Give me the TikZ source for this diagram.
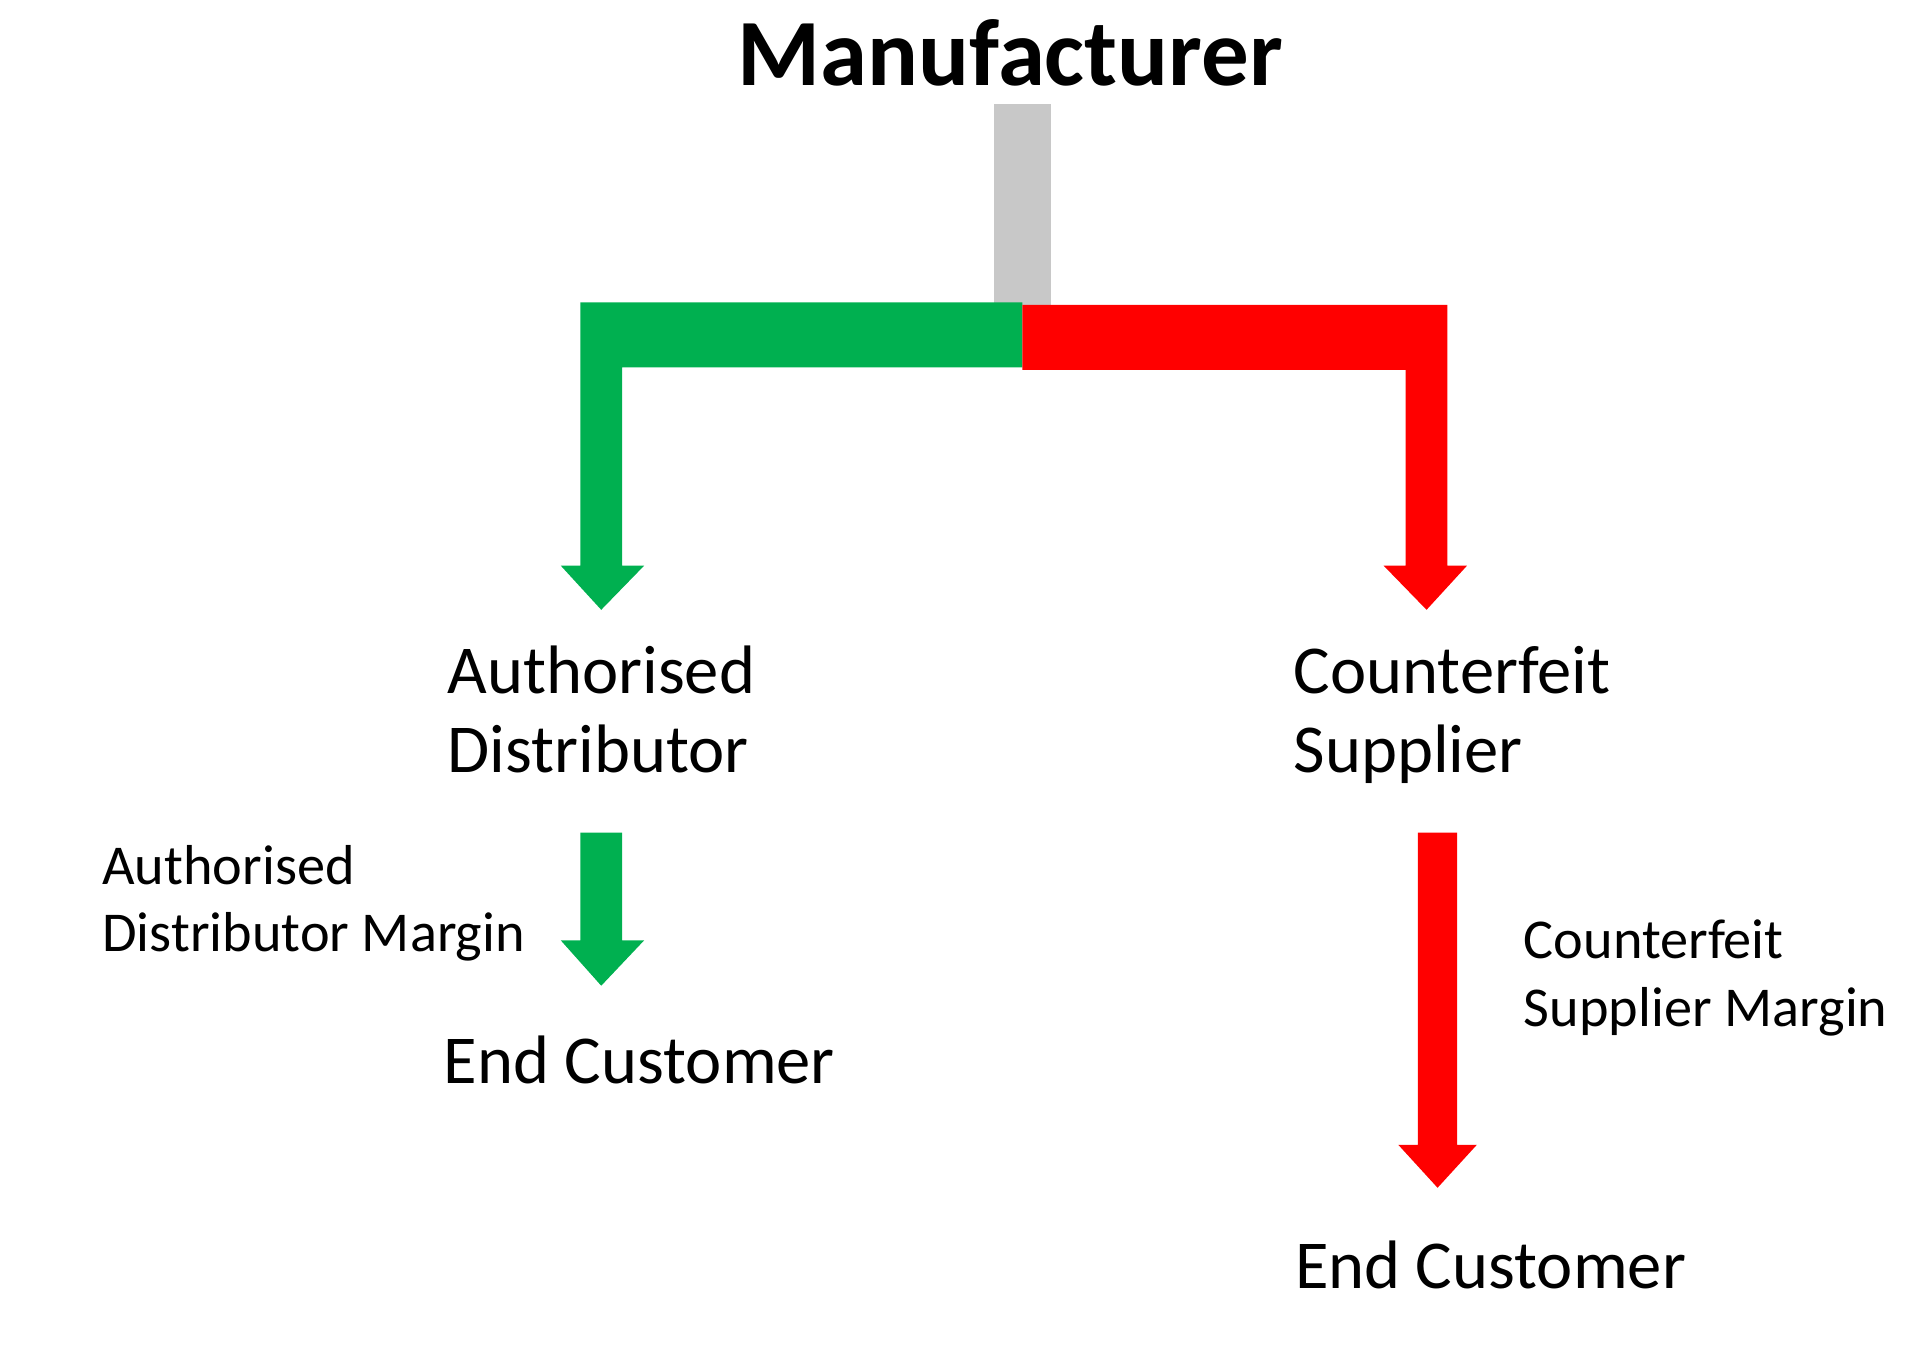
\documentclass[tikz,border=0pt]{standalone}
\usepackage{fontspec}
\setmainfont{Carlito}
\definecolor{gr}{RGB}{0,176,80}
\definecolor{rd}{RGB}{255,0,0}
\definecolor{gy}{RGB}{200,200,200}
\begin{document}
\begin{tikzpicture}[x=0.012245cm,y=-0.012245cm,
  big/.style={anchor=base west,inner sep=0pt,font=\fontsize{19.5}{22}\selectfont},
  small/.style={anchor=base west,inner sep=0pt,font=\fontsize{16}{19}\selectfont}]
\useasboundingbox (0,0) rectangle (1568,1109);
\node[anchor=base,inner sep=0pt,font=\fontsize{27}{30}\bfseries\selectfont] (m) at (825,70) {Manufacturer};
\fill[gy] (812,85) rectangle (858,249);
\fill[gr] (835,247) -- (474,247) -- (474,462) -- (458,462) -- (491,498) -- (526,462) -- (508,462) -- (508,300) -- (835,300) -- cycle;
\fill[rd] (835,249) -- (1182,249) -- (1182,462) -- (1198,462) -- (1165,498) -- (1130,462) -- (1148,462) -- (1148,302) -- (835,302) -- cycle;
\fill[gr] (474,680) -- (508,680) -- (508,768) -- (526,768) -- (491,805) -- (458,768) -- (474,768) -- cycle;
\fill[rd] (1158,680) -- (1190,680) -- (1190,935) -- (1206,935) -- (1174,970) -- (1142,935) -- (1158,935) -- cycle;
\node[big] (a1) at (365,566) {Authorised};
\node[big] (a2) at (365,631) {Distributor};
\node[big] (c1) at (1056,566) {Counterfeit};
\node[big] (c2) at (1056,631) {Supplier};
\node[small] (am1) at (83,722) {Authorised};
\node[small] (am2) at (83,777) {Distributor Margin};
\node[big] (e1) at (362,885) {End Customer};
\node[small] (cm1) at (1244,783) {Counterfeit};
\node[small] (cm2) at (1244,838) {Supplier Margin};
\node[big] (e2) at (1057,1052) {End Customer};
\end{tikzpicture}
\end{document}
